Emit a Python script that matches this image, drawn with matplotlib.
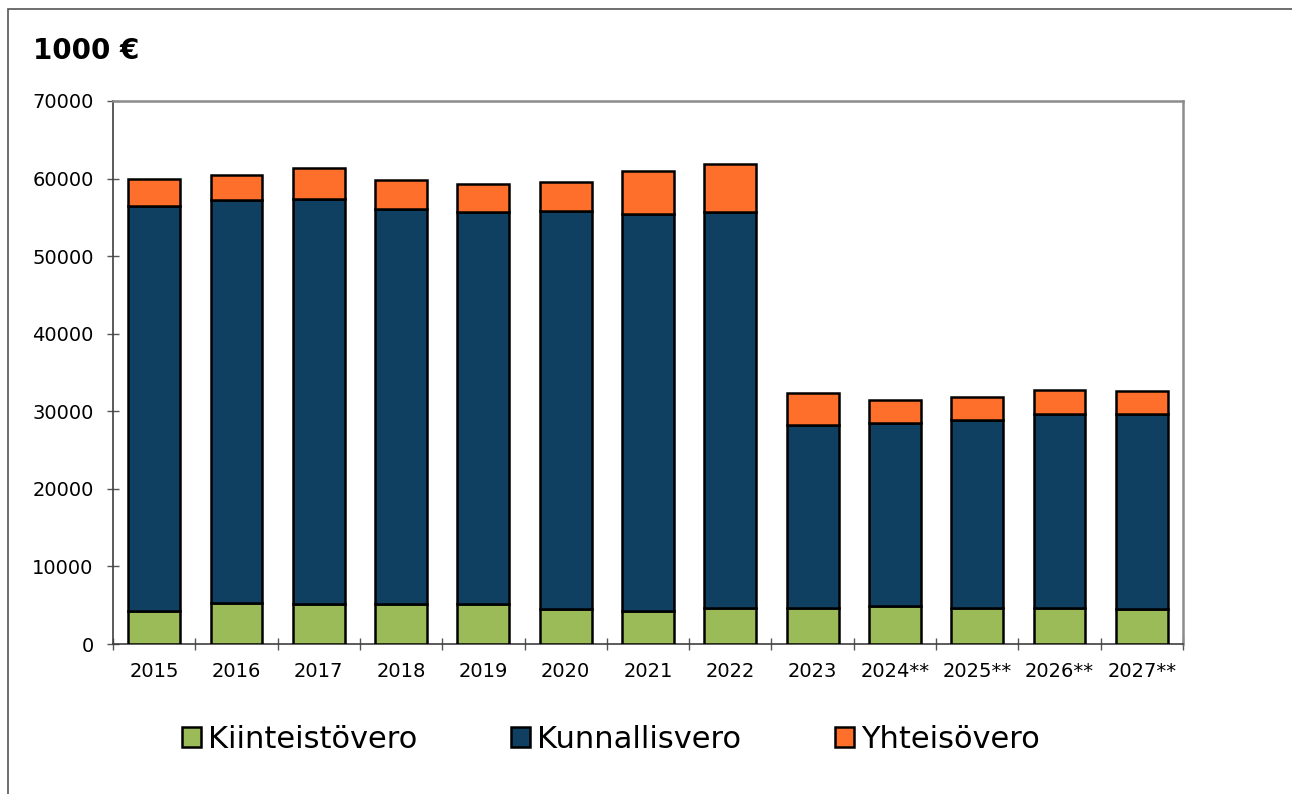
import matplotlib
matplotlib.use("Agg")
import matplotlib.pyplot as plt
import matplotlib.patches as mpatches
import numpy as np

years = ["2015", "2016", "2017", "2018", "2019", "2020", "2021", "2022", "2023",
         "2024**", "2025**", "2026**", "2027**"]
kiinteistovero = [4300, 5300, 5200, 5200, 5100, 4550, 4300, 4600, 4700, 4900, 4700, 4600, 4500]
kunnallisvero = [52200, 51900, 52200, 50900, 50600, 51250, 51100, 51100, 23500, 23600, 24200, 25100, 25100]
yhteisovero = [3500, 3200, 3900, 3700, 3600, 3800, 5600, 6200, 4200, 3000, 3000, 3000, 3000]

labels = ["Kiinteistövero", "Kunnallisvero", "Yhteisövero"]
colors = ["#9BBB59", "#0F4061", "#FF6F2C"]

plt.rcParams['font.family'] = ['DejaVu Sans']

W, H = 1292, 794
fig = plt.figure(figsize=(W / 100, H / 100), dpi=100)
ax = fig.add_axes([113 / W, 1 - 644 / H, (1183 - 113) / W, (644 - 101) / H])

x = np.arange(len(years))
k = np.array(kiinteistovero)
ku = np.array(kunnallisvero)
y = np.array(yhteisovero)
bw = 0.63
ax.bar(x, k, bw, color=colors[0], edgecolor="black", linewidth=1.8, label=labels[0], zorder=3)
ax.bar(x, ku, bw, bottom=k, color=colors[1], edgecolor="black", linewidth=1.8, label=labels[1], zorder=3)
ax.bar(x, y, bw, bottom=k + ku, color=colors[2], edgecolor="black", linewidth=1.8, label=labels[2], zorder=3)

ax.set_xlim(-0.5, len(years) - 0.5)
ax.set_ylim(0, 70000)
ax.set_yticks(np.arange(0, 70001, 10000))
ax.set_yticklabels([str(v) for v in range(0, 70001, 10000)])
ax.set_xticks(x)
ax.set_xticklabels(years)
ax.set_xticks(np.arange(-0.5, len(years), 1.0), minor=True)
ax.tick_params(axis="x", which="major", length=0, pad=13, labelsize=14)
ax.tick_params(axis="x", which="minor", length=9, direction="inout", width=1, color="#555555")
ax.tick_params(axis="y", length=8, direction="inout", width=1, pad=10, labelsize=14, color="#555555")

for s in ["left", "bottom"]:
    ax.spines[s].set_color("#404040")
    ax.spines[s].set_linewidth(1.2)
for s in ["top", "right"]:
    ax.spines[s].set_color("#8c8c8c")
    ax.spines[s].set_linewidth(1.8)

fig.text(33 / W, 1 - 51 / H, "1000 €", fontsize=20, fontweight="bold", ha="left", va="center")

leg = fig.legend(loc="center left", bbox_to_anchor=(182 / W, 1 - 739 / H), ncol=3, frameon=False,
                 fontsize=22, handlelength=0.62, handleheight=0.62, handletextpad=0.23,
                 columnspacing=3.08, borderaxespad=0, borderpad=0)

fig.patches.append(mpatches.Rectangle((8 / W, -0.1), 2, 1 - 9 / H + 0.1, transform=fig.transFigure,
                                      fill=False, edgecolor="#555555", linewidth=1.2))

fig.savefig("out.png", dpi=100)
